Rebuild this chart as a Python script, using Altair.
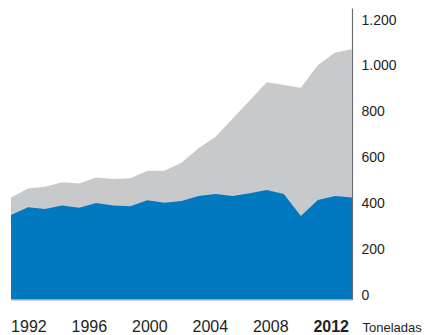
import altair as alt
import pandas as pd

# Data
years = list(range(1992, 2013))
parte = [368, 402, 394, 409, 400, 420, 410, 406, 432, 422, 429, 451, 460,
         451, 463, 477, 460, 364, 434, 451, 444]
total = [444, 484, 491, 511, 505, 532, 525, 528, 561, 561, 596, 659, 709,
         787, 867, 946, 935, 923, 1022, 1075, 1090]
x_labels = ["1992", "1996", "2000", "2004", "2008", "2012"]
y_ticks = [0, 200, 400, 600, 800, 1000, 1200]
unit = "Toneladas"

df = pd.DataFrame({"year": years, "parte": parte, "total": total})
lab = pd.DataFrame({"label": x_labels})

FONT = "Liberation Sans"
TXT = "#231f20"
W, H = 341, 291.5

x_enc = alt.X("year:Q", scale=alt.Scale(domain=[1992, 2012], nice=False, zero=False), axis=None)
yscale = alt.Scale(domain=[0, 1270], nice=False, zero=True)

yaxis = alt.Axis(
    orient="right", values=y_ticks, ticks=False, grid=False,
    domain=True, domainColor="#6d6e71", domainWidth=1.2,
    labelPadding=9, labelFontSize=14, labelFont=FONT, labelColor=TXT,
    labelBaseline="alphabetic",
    labelExpr="replace(format(datum.value, ','), ',', '.')",
    title=unit, titleAngle=0, titleAlign="left", titleBaseline="alphabetic",
    titleX=10, titleY=323.5, titleFontSize=13, titleFontWeight="normal",
    titleColor=TXT, titleFont=FONT,
)

grey = alt.Chart(df).mark_area(color="#c8c9cb").encode(
    x=x_enc, y=alt.Y("total:Q", scale=yscale, axis=yaxis)
)
blue = alt.Chart(df).mark_area(color="#0079c1").encode(
    x=x_enc, y=alt.Y("parte:Q", scale=yscale, axis=yaxis)
)
labels = alt.Chart(lab).mark_point(opacity=0).encode(
    x=alt.X(
        "label:O", sort=x_labels,
        scale=alt.Scale(type="point", padding=0.32, align=0.45),
        axis=alt.Axis(
            orient="bottom", title=None, ticks=False, grid=False,
            domain=True, domainColor="#a7a9ac", domainWidth=1, zindex=1,
            labelAngle=0, labelPadding=32, labelBaseline="alphabetic",
            labelFontSize=16, labelFont=FONT, labelColor=TXT,
            labelFontWeight=alt.expr("datum.label == '2012' ? 'bold' : 'normal'"),
        ),
    )
)

chart = (
    alt.layer(grey, blue, labels)
    .resolve_scale(x="independent")
    .properties(
        width=W, height=H,
        padding={"left": 11, "top": 8, "right": 73, "bottom": 35.5},
        autosize=alt.AutoSizeParams(type="none"),
        background="white",
    )
    .configure_view(stroke=None)
)

chart.save("out.html", embed_options={"renderer": "svg", "actions": False})
